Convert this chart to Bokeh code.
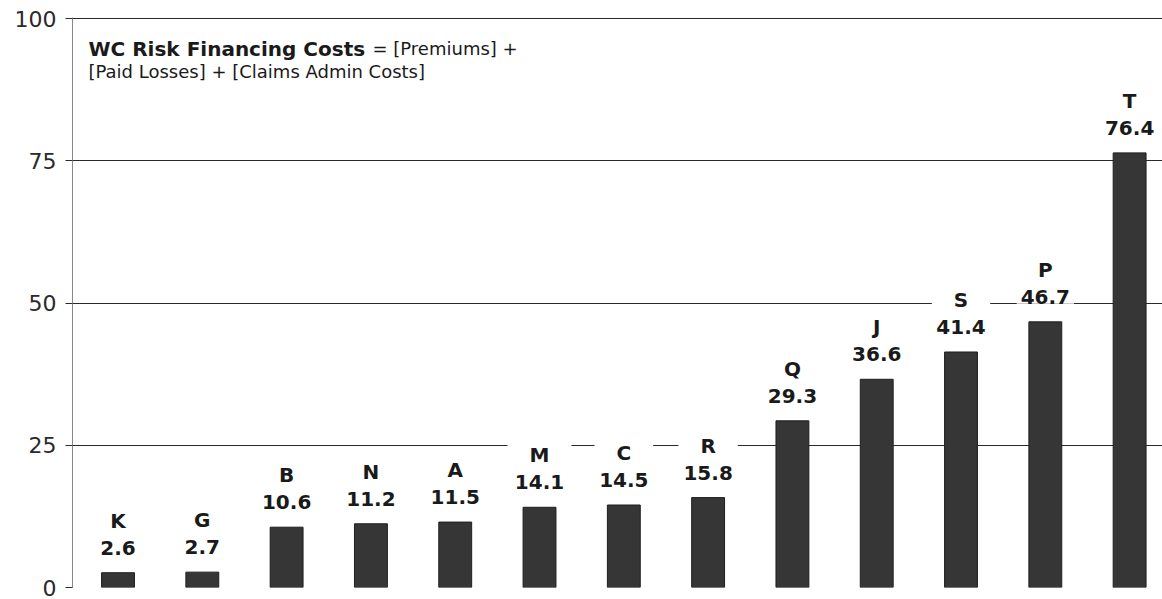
from bokeh.plotting import figure
from bokeh.models import ColumnDataSource, Range1d, Label, FixedTicker
from bokeh.embed import file_html
from bokeh.resources import INLINE
from bokeh.core.properties import value

# ---- data ----
letters = ["K", "G", "B", "N", "A", "M", "C", "R", "Q", "J", "S", "P", "T"]
costs = [2.6, 2.7, 10.6, 11.2, 11.5, 14.1, 14.5, 15.8, 29.3, 36.6, 41.4, 46.7, 76.4]
y_ticks = [0, 25, 50, 75, 100]

idx = list(range(len(letters)))
src = ColumnDataSource(dict(
    x=idx, y=costs, letter=letters, val=[f"{v:.1f}" for v in costs]
))

FONT = "DejaVu Sans"
BAR = "#363636"
LINE = "#2a2a2a"

p = figure(width=1162, height=599, output_backend="svg", toolbar_location=None,
           x_range=Range1d(-0.54, 12.39), y_range=Range1d(0, 100.2),
           min_border_left=72, min_border_right=0, min_border_top=17,
           min_border_bottom=12)
p.outline_line_color = None
p.background_fill_color = "white"
p.border_fill_color = "white"

p.xaxis.visible = False
p.xgrid.visible = False

yax = p.yaxis[0]
yax.ticker = FixedTicker(ticks=y_ticks)
yax.axis_line_color = "#888888"
yax.axis_line_width = 1
yax.major_tick_line_color = LINE
yax.major_tick_out = 7
yax.major_tick_in = 0
yax.minor_tick_line_color = None
yax.major_label_text_font = FONT
yax.major_label_text_font_size = "22px"
yax.major_label_text_color = "#2a2a2a"
yax.major_label_standoff = 9

p.ygrid.ticker = FixedTicker(ticks=y_ticks)
p.ygrid.grid_line_color = LINE
p.ygrid.grid_line_width = 1

p.vbar(x="x", top="y", bottom=0, width=0.39, source=src,
       fill_color=BAR, line_color="#1e1e1e", line_width=1)

p.text(x="x", y="y", text="val", source=src, y_offset=-25,
       text_align="center", text_baseline="alphabetic",
       text_font=value(FONT), text_font_style="bold", text_font_size="20px",
       text_color="#1a1a1a", background_fill_color="white", padding=(4, 0))
p.text(x="x", y="y", text="letter", source=src, y_offset=-52,
       text_align="center", text_baseline="alphabetic",
       text_font=value(FONT), text_font_style="bold", text_font_size="20px",
       text_color="#1a1a1a", background_fill_color="white", padding=(22, 0))

# annotation (screen units relative to the plot frame: x from frame left, y from frame bottom)
lab1 = Label(x=16, y=539, x_units="screen", y_units="screen",
             text="WC Risk Financing Costs", text_font=FONT,
             text_font_style="bold", text_font_size="20px", text_color="#1a1a1a",
             text_baseline="alphabetic")
lab1b = Label(x=300, y=539, x_units="screen", y_units="screen",
              text="= [Premiums] +", text_font=FONT,
              text_font_size="18px", text_color="#1a1a1a",
              text_baseline="alphabetic")
lab2 = Label(x=16, y=516, x_units="screen", y_units="screen",
             text="[Paid Losses] + [Claims Admin Costs]", text_font=FONT,
             text_font_size="18px", text_color="#1a1a1a",
             text_baseline="alphabetic")
for l in (lab1, lab1b, lab2):
    p.add_layout(l)

open("out.html", "w").write(file_html(p, INLINE))
